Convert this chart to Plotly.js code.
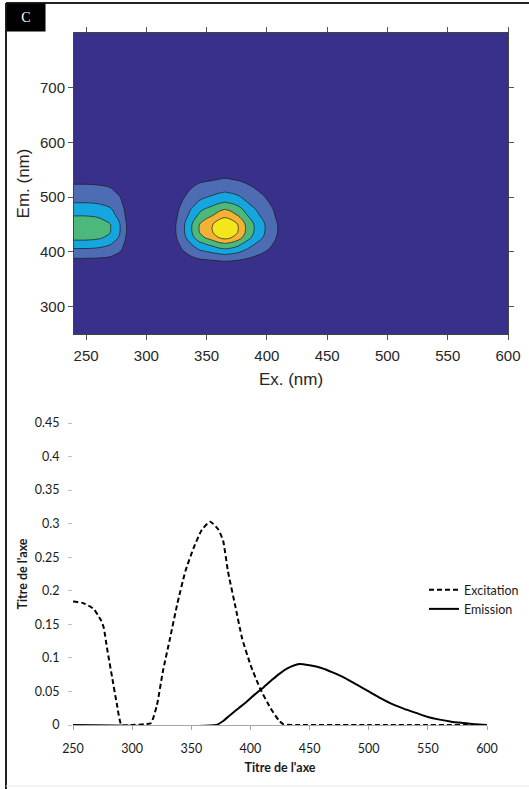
<!DOCTYPE html>
<html>
<head>
<meta charset="utf-8">
<script src="https://cdn.plot.ly/plotly-3.0.1.min.js"></script>
<style>
html,body{margin:0;padding:0;background:#fff;}
#chart{width:529px;height:789px;}
</style>
</head>
<body>
<div id="chart"></div>
<script>
// ---- Top panel: excitation-emission matrix (contour) ----
const exGrid = [240, 250, 260, 270, 278, 283, 290, 318, 325, 332, 338, 344, 350, 355, 360, 365, 370, 376, 382, 389, 398, 408, 420, 600];
const emGrid = [250, 370, 384, 396, 406, 416, 426, 435, 443, 451, 459, 468, 477, 490, 508, 532, 560, 800];
const zGrid = [
  [0,0,0,0,0,0,0,0,0,0,0,0,0,0,0,0,0,0,0,0,0,0,0,0],
  [0,0,0,0,0,0,0,0,0,0,0,0,0,0,0,0,0,0,0,0,0,0,0,0],
  [0.072,0.072,0.068,0.058,0.036,0.014,0,0,0.014,0.036,0.058,0.079,0.091,0.101,0.113,0.120,0.114,0.101,0.079,0.058,0.036,0.014,0,0],
  [0.180,0.180,0.171,0.144,0.090,0.036,0,0,0.036,0.090,0.144,0.198,0.228,0.252,0.282,0.300,0.285,0.252,0.198,0.144,0.090,0.036,0,0],
  [0.288,0.288,0.274,0.230,0.144,0.058,0,0,0.058,0.144,0.230,0.317,0.365,0.403,0.451,0.480,0.456,0.403,0.317,0.230,0.144,0.058,0,0],
  [0.396,0.396,0.376,0.317,0.198,0.079,0,0,0.079,0.198,0.317,0.436,0.502,0.554,0.620,0.660,0.627,0.554,0.436,0.317,0.198,0.079,0,0],
  [0.528,0.528,0.502,0.422,0.264,0.106,0,0,0.106,0.264,0.422,0.581,0.669,0.739,0.827,0.880,0.836,0.739,0.581,0.422,0.264,0.106,0,0],
  [0.588,0.588,0.559,0.470,0.294,0.118,0,0,0.118,0.294,0.470,0.647,0.745,0.823,0.921,0.980,0.931,0.823,0.647,0.470,0.294,0.118,0,0],
  [0.600,0.600,0.570,0.480,0.300,0.120,0,0,0.120,0.300,0.480,0.660,0.760,0.840,0.940,1.000,0.950,0.840,0.660,0.480,0.300,0.120,0,0],
  [0.588,0.588,0.559,0.470,0.294,0.118,0,0,0.118,0.294,0.470,0.647,0.745,0.823,0.921,0.980,0.931,0.823,0.647,0.470,0.294,0.118,0,0],
  [0.528,0.528,0.502,0.422,0.264,0.106,0,0,0.106,0.264,0.422,0.581,0.669,0.739,0.827,0.880,0.836,0.739,0.581,0.422,0.264,0.106,0,0],
  [0.450,0.450,0.428,0.360,0.225,0.090,0,0,0.090,0.225,0.360,0.495,0.570,0.630,0.705,0.750,0.713,0.630,0.495,0.360,0.225,0.090,0,0],
  [0.396,0.396,0.376,0.317,0.198,0.079,0,0,0.079,0.198,0.317,0.436,0.502,0.554,0.620,0.660,0.627,0.554,0.436,0.317,0.198,0.079,0,0],
  [0.288,0.288,0.274,0.230,0.144,0.058,0,0,0.058,0.144,0.230,0.317,0.365,0.403,0.451,0.480,0.456,0.403,0.317,0.230,0.144,0.058,0,0],
  [0.180,0.180,0.171,0.144,0.090,0.036,0,0,0.036,0.090,0.144,0.198,0.228,0.252,0.282,0.300,0.285,0.252,0.198,0.144,0.090,0.036,0,0],
  [0.072,0.072,0.068,0.058,0.036,0.014,0,0,0.014,0.036,0.058,0.079,0.091,0.101,0.113,0.120,0.114,0.101,0.079,0.058,0.036,0.014,0,0],
  [0,0,0,0,0,0,0,0,0,0,0,0,0,0,0,0,0,0,0,0,0,0,0,0],
  [0,0,0,0,0,0,0,0,0,0,0,0,0,0,0,0,0,0,0,0,0,0,0,0]
];
const eemTickX = [250, 300, 350, 400, 450, 500, 550, 600];
const eemTickY = [300, 400, 500, 600, 700];

// ---- Bottom panel: spectra ----
const excX = [250, 258, 264, 268, 271, 274, 276, 279, 283, 287, 291, 300, 310, 316, 321, 326, 332, 338, 345, 352, 359, 366, 373, 377, 381, 387, 393, 400, 408, 417, 424, 428, 440, 500, 600];
const excY = [0.184, 0.182, 0.177, 0.172, 0.164, 0.155, 0.145, 0.112, 0.072, 0.032, 0, 0, 0.001, 0.003, 0.030, 0.080, 0.129, 0.179, 0.229, 0.264, 0.291, 0.303, 0.291, 0.274, 0.229, 0.179, 0.129, 0.090, 0.055, 0.025, 0.007, 0.001, 0, 0, 0];
const emiX = [250, 371, 377, 383, 390, 397, 404, 411, 418, 425, 432, 441, 450, 460, 470, 480, 490, 500, 510, 520, 530, 540, 550, 560, 570, 580, 590, 600];
const emiY = [0, 0, 0.006, 0.015, 0.025, 0.035, 0.046, 0.056, 0.067, 0.077, 0.085, 0.091, 0.089, 0.085, 0.078, 0.070, 0.060, 0.050, 0.040, 0.031, 0.024, 0.018, 0.012, 0.008, 0.005, 0.003, 0.001, 0];
const specTickX = [250, 300, 350, 400, 450, 500, 550, 600];
const specTickY = [0, 0.05, 0.1, 0.15, 0.2, 0.25, 0.3, 0.35, 0.4, 0.45];
const specTickYText = ['0', '0.05', '0.1', '0.15', '0.2', '0.25', '0.3', '0.35', '0.4', '0.45'];

const W = 529, H = 789;
const px = v => v / W;
const py = v => 1 - v / H;

const traces = [
  {
    type: 'contour', x: exGrid, y: emGrid, z: zGrid,
    xaxis: 'x', yaxis: 'y',
    contours: {start: 0.11, end: 0.83, size: 0.18, coloring: 'fill'},
    colorscale: [[0, '#38308b'], [0.2, '#4d6cb4'], [0.4, '#16a6df'], [0.6, '#4cb87b'], [0.8, '#f3b235'], [1, '#f1e71b']],
    line: {color: '#1a1a1a', width: 0.7, smoothing: 1},
    showscale: false, hoverinfo: 'skip', showlegend: false
  },
  {
    type: 'scatter', mode: 'lines', name: 'Excitation', x: excX, y: excY,
    xaxis: 'x2', yaxis: 'y2',
    line: {color: '#000', width: 2, dash: '5px,3px', shape: 'spline', smoothing: 0.5}
  },
  {
    type: 'scatter', mode: 'lines', name: 'Emission', x: emiX, y: emiY,
    xaxis: 'x2', yaxis: 'y2',
    line: {color: '#000', width: 2, shape: 'spline', smoothing: 0.5}
  }
];

const topFont = {family: '"Liberation Sans", Arial, sans-serif', size: 15, color: '#262626'};
const botFont = {family: 'Lato, "Open Sans", sans-serif', size: 12.5, color: '#1a1a1a'};
const botTitleFont = {family: 'Lato, "Open Sans", sans-serif', size: 12.5, color: '#1a1a1a', weight: 'bold'};

const layout = {
  width: W, height: H,
  margin: {l: 0, r: 0, t: 0, b: 0},
  paper_bgcolor: '#fff', plot_bgcolor: 'rgba(0,0,0,0)',
  showlegend: true,
  legend: {
    x: px(424), xanchor: 'left', y: py(575), yanchor: 'top',
    bgcolor: 'rgba(0,0,0,0)', font: {family: 'Lato, "Open Sans", sans-serif', size: 12.5, color: '#1a1a1a'},
    itemwidth: 30, tracegroupgap: 0
  },
  xaxis: {
    domain: [px(74), px(508)], anchor: 'y', range: [240, 600],
    tickvals: eemTickX, ticks: 'outside', ticklen: 5, tickcolor: '#555', tickwidth: 1,
    showline: true, linecolor: '#444', linewidth: 1, mirror: 'ticks',
    showgrid: false, zeroline: false, tickfont: topFont, ticklabelstandoff: 3,
    title: {text: 'Ex. (nm)', font: {family: '"Liberation Sans", Arial, sans-serif', size: 17, color: '#262626'}, standoff: 10}
  },
  yaxis: {
    domain: [py(334), py(33)], anchor: 'x', range: [250, 800],
    tickvals: eemTickY, ticks: 'outside', ticklen: 5, tickcolor: '#555', tickwidth: 1,
    showline: true, linecolor: '#444', linewidth: 1, mirror: 'ticks',
    showgrid: false, zeroline: false, tickfont: topFont,
    title: {text: 'Em. (nm)', font: {family: '"Liberation Sans", Arial, sans-serif', size: 17, color: '#262626'}, standoff: 6}
  },
  xaxis2: {
    domain: [px(73), px(487)], anchor: 'y2', range: [250, 600],
    tickvals: specTickX, ticks: 'outside', ticklen: 4, tickcolor: '#a6a6a6',
    showline: true, linecolor: '#a6a6a6', linewidth: 1,
    showgrid: false, zeroline: false, tickfont: botFont, ticklabelstandoff: 8,
    title: {text: "Titre de l'axe", font: botTitleFont, standoff: 8}
  },
  yaxis2: {
    domain: [py(725), py(423)], anchor: 'x2', range: [0, 0.45],
    tickvals: specTickY, ticktext: specTickYText, ticks: 'outside', ticklen: 4, tickcolor: '#bfbfbf',
    showline: false, showgrid: false, zeroline: false, tickfont: botFont, ticklabelstandoff: 6,
    title: {text: "Titre de l'axe", font: botTitleFont, standoff: 4}
  },
  shapes: [
    {type: 'line', xref: 'paper', yref: 'paper', x0: px(6), x1: 1, y0: py(3), y1: py(3), line: {color: '#222', width: 2}},
    {type: 'line', xref: 'paper', yref: 'paper', x0: px(6), x1: px(6), y0: 0, y1: py(3), line: {color: '#222', width: 2}},
    {type: 'line', xref: 'paper', yref: 'paper', x0: px(6), x1: 1, y0: py(786), y1: py(786), line: {color: '#e6e6e6', width: 1}}
  ],
  annotations: [
    {
      xref: 'paper', yref: 'paper', x: px(6), y: py(3), xanchor: 'left', yanchor: 'top',
      text: 'C', showarrow: false, bgcolor: '#000', width: 34, height: 23, borderpad: 2,
      font: {family: '"Liberation Serif", "DejaVu Serif", serif', size: 14, color: '#fff'}
    }
  ]
};

Plotly.newPlot('chart', traces, layout, {staticPlot: true, displayModeBar: false});
</script>
</body>
</html>
